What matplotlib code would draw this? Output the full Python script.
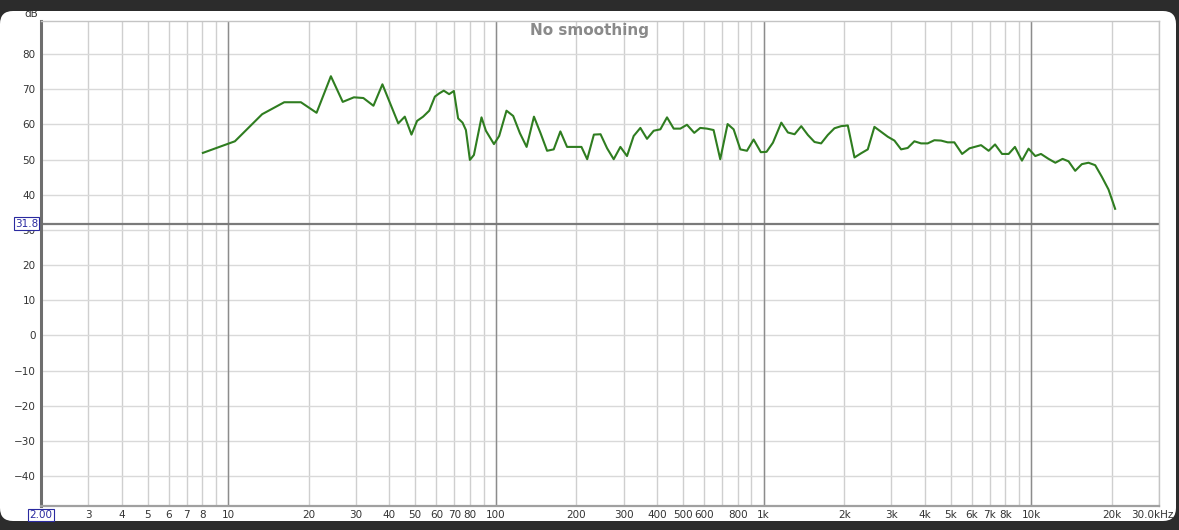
import matplotlib
matplotlib.use("Agg")
import matplotlib.pyplot as plt
from matplotlib.patches import FancyBboxPatch, Rectangle
from matplotlib.transforms import IdentityTransform
import numpy as np

# ---- data ----
freq_hz = [8.05, 10.6, 13.4, 16.2, 18.7, 21.4, 24.2, 26.8, 29.5, 32.0, 34.9, 37.7,
           43.2, 45.7, 48.4, 50.8, 53.5, 56.4, 59.2, 61.4, 63.9, 66.9, 69.7, 72.3,
           75.1, 77.3, 80.0, 82.8, 88.4, 91.8, 98.4, 102.9, 109.6, 116.1, 123.0,
           130.3, 138.8, 146.9, 155.4, 164.5, 174.2, 184.5, 208.8, 219.4, 232.4,
           246.1, 260.4, 275.6, 291.9, 309.0, 327.2, 346.6, 367.0, 388.8, 411.7,
           435.9, 461.7, 488.9, 517.5, 551, 580, 614.6, 650.6, 689, 734, 773, 819,
           867, 918, 977, 1026, 1084, 1165, 1233, 1306, 1383, 1464, 1550, 1641,
           1738, 1840, 1949, 2064, 2186, 2315, 2451, 2595, 2748, 2910, 3082, 3264,
           3455, 3659, 3875, 4103, 4345, 4601, 4873, 5160, 5517, 5877, 6493, 6930,
           7324, 7778, 8230, 8690, 9230, 9770, 10350, 10870, 11600, 12300, 13090,
           13780, 14590, 15450, 16360, 17330, 18350, 19430, 20570]
spl_db = [51.9, 55.2, 62.9, 66.3, 66.3, 63.3, 73.7, 66.4, 67.7, 67.5, 65.3, 71.4,
          60.3, 62.2, 57.1, 61.0, 62.2, 63.9, 67.9, 68.8, 69.6, 68.6, 69.5, 61.7,
          60.5, 58.4, 49.9, 51.3, 62.0, 58.2, 54.4, 56.7, 63.9, 62.4, 57.5,
          53.6, 62.2, 57.5, 52.5, 52.9, 58.0, 53.6, 53.6, 50.1, 57.1,
          57.2, 53.2, 50.1, 53.6, 51.0, 56.7, 59.0, 55.9, 58.2, 58.6,
          62.0, 58.8, 58.8, 59.9, 57.6, 59.0, 58.8, 58.4, 50.1, 60.1, 58.6, 52.9,
          52.5, 55.7, 52.1, 52.2, 54.8, 60.5, 57.7, 57.2, 59.5, 57.0, 55.0, 54.6,
          57.0, 58.9, 59.5, 59.7, 50.6, 51.8, 52.9, 59.3, 57.9, 56.5, 55.4, 52.9,
          53.3, 55.2, 54.6, 54.6, 55.5, 55.4, 54.9, 54.9, 51.6, 53.2, 54.1, 52.5,
          54.3, 51.6, 51.6, 53.6, 49.7, 53.1, 51.0, 51.6, 50.2, 49.1, 50.2,
          49.5, 46.8, 48.7, 49.1, 48.4, 45.1, 41.5, 36.0]

x_tick_vals = [3, 4, 5, 6, 7, 8, 10, 20, 30, 40, 50, 60, 70, 80, 100, 200, 300,
               400, 500, 600, 800, 1000, 2000, 3000, 4000, 5000, 6000, 7000, 8000,
               10000, 20000]
x_tick_labels = ["3", "4", "5", "6", "7", "8", "10", "20", "30", "40", "50", "60",
                 "70", "80", "100", "200", "300", "400", "500", "600", "800", "1k",
                 "2k", "3k", "4k", "5k", "6k", "7k", "8k", "10k", "20k"]
y_tick_vals = list(range(-40, 81, 10))
cursor_db = 31.8
title_text = "No smoothing"

W, H = 1179, 530
DARK = "#2c2c2c"
fig = plt.figure(figsize=(W / 100, H / 100), dpi=100)
fig.patch.set_facecolor(DARK)

# white rounded panel (pixel coordinates, origin bottom-left)
panel = FancyBboxPatch((0, 9), 1176, 510,
                       boxstyle="round,pad=0,rounding_size=13",
                       transform=IdentityTransform(), facecolor="white",
                       edgecolor="none", zorder=-5)
fig.patches.append(panel)

ax = fig.add_axes([41 / W, 1 - 506 / H, (1159 - 41) / W, (506 - 21) / H])
ax.set_facecolor("white")
ax.set_xscale("log")
ax.set_xlim(2, 30000)
ax.set_ylim(-48.5, 89.4)

# grid
minor = [m * 10 ** e for e in range(0, 5) for m in range(1, 10)]
minor = [v for v in minor if 2 <= v <= 30000]
ax.set_xticks(minor, minor=True)
ax.set_xticks(x_tick_vals)
ax.set_xticklabels(x_tick_labels)
ax.set_yticks(y_tick_vals)
ax.grid(True, which="both", axis="x", color="#cfcfcf", lw=1.0)
ax.grid(True, which="major", axis="y", color="#d9d9d9", lw=1.0)
for d in [10, 100, 1000, 10000]:
    ax.axvline(d, color="#8c8c8c", lw=1.0, zorder=1)
ax.set_axisbelow(True)
ax.tick_params(which="both", length=0, labelsize=7.5, colors="#333333", pad=4)
ax.tick_params(axis="x", pad=3)

for s in ["top", "right"]:
    ax.spines[s].set_color("#c4c4c4")
    ax.spines[s].set_linewidth(1.0)
ax.spines["left"].set_color("#6e6e6e")
ax.spines["left"].set_linewidth(2.2)
ax.spines["bottom"].set_color("#a0a0a0")
ax.spines["bottom"].set_linewidth(1.6)

# cursor line
ax.axhline(cursor_db, color="#7a7a7a", lw=1.6, zorder=2)

# data
ax.plot(freq_hz, spl_db, color="#2f7d20", lw=1.5, zorder=3)

# title
fig.text(589 / W, 1 - 31 / H, title_text, ha="center", va="center",
         fontsize=11, fontweight="bold", color="#8a8a8a")

# boxed labels
box = dict(boxstyle="square,pad=0.12", facecolor="white", edgecolor="#2a2aa0", lw=0.8)
ax.annotate("31.8", xy=(0, cursor_db), xycoords=("axes fraction", "data"),
            xytext=(-2, 0), textcoords="offset points", ha="right", va="center",
            fontsize=7.5, color="#2a2aa0", bbox=box, zorder=5, annotation_clip=False)
ax.annotate("2.00", xy=(0, 0), xycoords="axes fraction",
            xytext=(0, -3), textcoords="offset points", ha="center", va="top",
            fontsize=7.5, color="#2a2aa0", bbox=box, zorder=5, annotation_clip=False)
ax.annotate("30.0kHz", xy=(1, 0), xycoords="axes fraction",
            xytext=(-5, -3.2), textcoords="offset points", ha="center", va="top",
            fontsize=7.5, color="#333333", annotation_clip=False)

fig.text(31 / W, 1 - 14 / H, "dB", ha="center", va="center", fontsize=7.5,
         color="#333333", zorder=1)
top_strip = Rectangle((0, 1 - 11 / H), 1, 11 / H, transform=fig.transFigure,
                      facecolor=DARK, edgecolor="none", zorder=10)
fig.patches.append(top_strip)

fig.savefig("out.png", dpi=100, facecolor=fig.get_facecolor())
